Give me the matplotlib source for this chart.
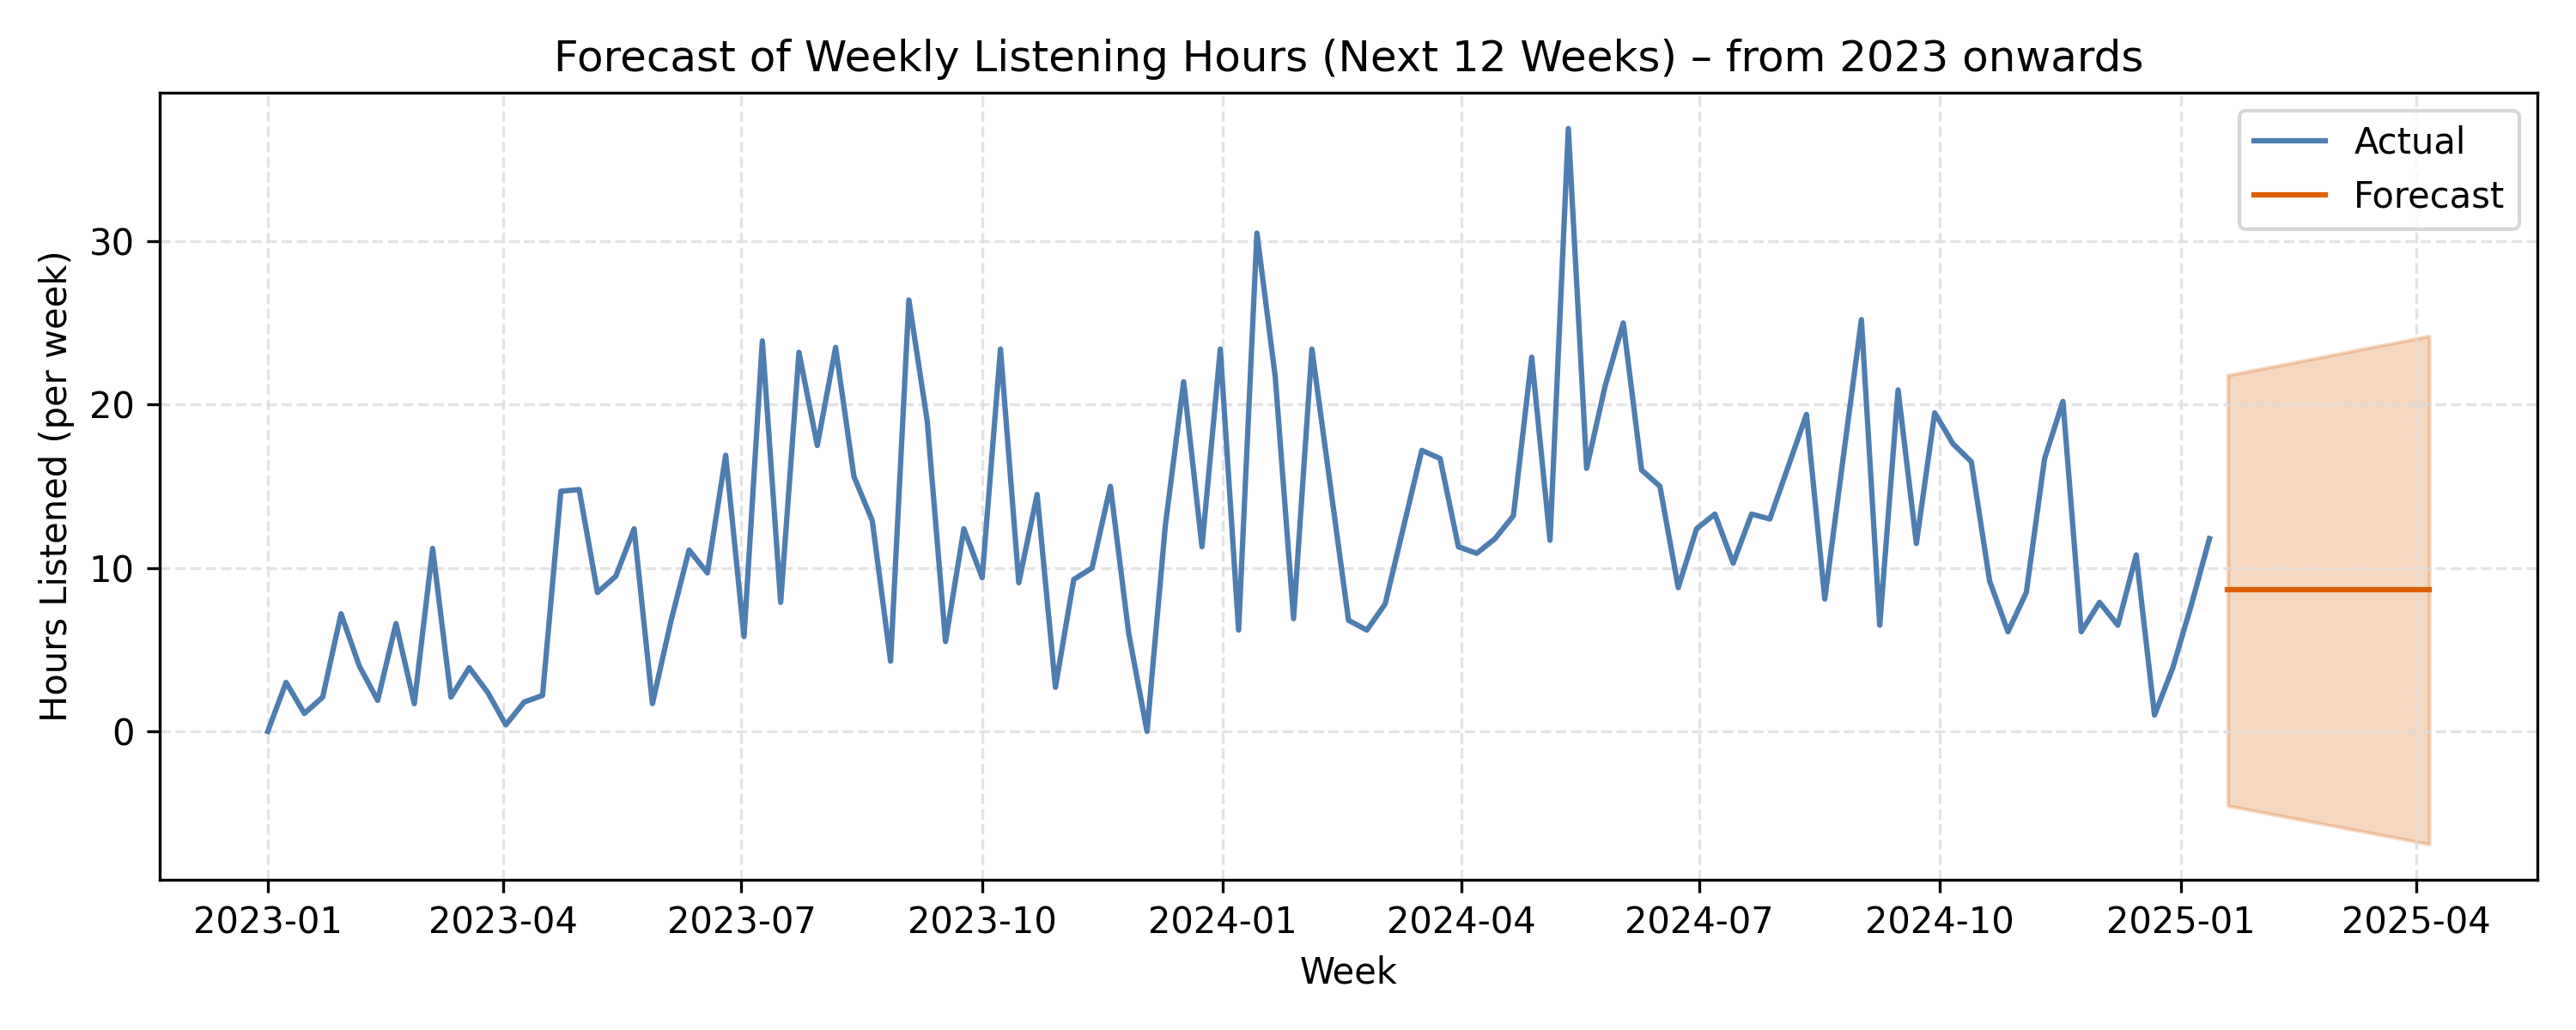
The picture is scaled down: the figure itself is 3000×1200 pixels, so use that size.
import numpy as np
import pandas as pd
import matplotlib
matplotlib.use("Agg")
import matplotlib.pyplot as plt

# weekly actuals (Sundays from 2023-01-01)
actual_hours = [
    0.0, 3.0, 1.1, 2.1, 7.2, 4.0, 1.9, 6.6, 1.7, 11.2,
    2.1, 3.9, 2.4, 0.4, 1.8, 2.2, 14.7, 14.8, 8.5, 9.5,
    12.4, 1.7, 6.7, 11.1, 9.7, 16.9, 5.8, 23.9, 7.9, 23.2,
    17.5, 23.5, 15.6, 12.9, 4.3, 26.4, 19.0, 5.5, 12.4, 9.4,
    23.4, 9.1, 14.5, 2.7, 9.3, 10.0, 15.0, 6.0, 0.0, 12.6,
    21.4, 11.3, 23.4, 6.2, 30.5, 21.7, 6.9, 23.4, 15.1, 6.8,
    6.2, 7.8, 12.5, 17.2, 16.7, 11.3, 10.9, 11.8, 13.2, 22.9,
    11.7, 36.9, 16.1, 21.1, 25.0, 16.0, 15.0, 8.8, 12.4, 13.3,
    10.3, 13.3, 13.0, 16.2, 19.4, 8.1, 16.7, 25.2, 6.5, 20.9,
    11.5, 19.5, 17.6, 16.5, 9.2, 6.1, 8.5, 16.7, 20.2, 6.1,
    7.9, 6.5, 10.8, 1.0, 3.9, 7.7, 11.8,
]
actual_dates = pd.date_range("2023-01-01", periods=len(actual_hours), freq="7D")

# 12 week forecast with band
forecast_mean = [8.67] * 12
forecast_upper = [21.80, 22.02, 22.24, 22.45, 22.67, 22.89, 23.11, 23.33, 23.55, 23.76, 23.98, 24.20]
forecast_lower = [-4.55, -4.76, -4.98, -5.19, -5.40, -5.62, -5.83, -6.05, -6.26, -6.47, -6.69, -6.90]
forecast_dates = pd.date_range("2025-01-19", periods=12, freq="7D")

blue = "#4e7db0"
orange = "#dc6005"

fig, ax = plt.subplots(figsize=(10, 4), dpi=300)
ax.plot(actual_dates, actual_hours, color=blue, lw=1.5, label="Actual")
ax.plot(forecast_dates, forecast_mean, color=orange, lw=1.5, label="Forecast")
ax.fill_between(forecast_dates, forecast_lower, forecast_upper, color=orange, alpha=0.25)

ax.set_title("Forecast of Weekly Listening Hours (Next 12 Weeks) \u2013 from 2023 onwards")
ax.set_xlabel("Week")
ax.set_ylabel("Hours Listened (per week)")
ax.grid(True, linestyle="--", color="#dddddd", alpha=0.8)
ax.legend(loc="upper right")

fig.tight_layout()
fig.savefig("out.png", dpi=300)
